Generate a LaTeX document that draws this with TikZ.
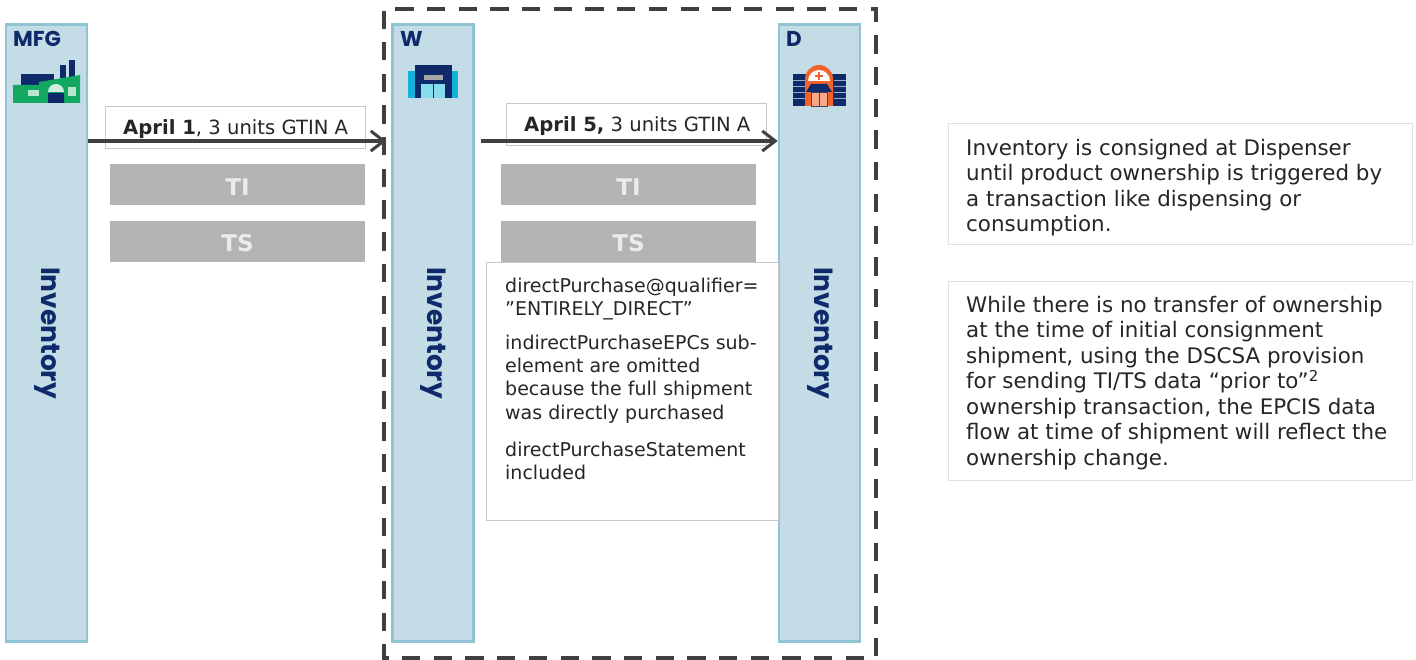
\documentclass[tikz,border=0pt]{standalone}
\usepackage{fontspec}
\setmainfont{DejaVu Sans}
\newfontfamily\headfont{Poppins}
\usetikzlibrary{arrows.meta}
\definecolor{pillarfill}{HTML}{C3DCE6}
\definecolor{pillaredge}{HTML}{90C4D5}
\definecolor{navy}{HTML}{0F2A6B}
\definecolor{barfill}{HTML}{B3B3B3}
\definecolor{boxedge}{HTML}{C8C8C8}
\definecolor{lineink}{HTML}{404040}
\definecolor{factgreen}{HTML}{12A860}
\definecolor{wcyan}{HTML}{12B4DC}
\definecolor{dorange}{HTML}{F2622B}
\tikzset{
  pillar/.style={draw=pillaredge,fill=pillarfill,line width=2.5pt,minimum width=81pt,minimum height=617pt,inner sep=0pt},
  pillartitle/.style={anchor=base west,inner sep=0pt,text=navy,font=\headfont\bfseries\fontsize{21.5}{21.5}\selectfont},
  pillartext/.style={rotate=270,inner sep=0pt,text=navy,font=\headfont\bfseries\fontsize{26.4}{26.4}\selectfont},
  labelbox/.style={draw=boxedge,fill=white,line width=1pt,minimum width=260pt,minimum height=42pt,inner sep=0pt},
  labeltext/.style={anchor=base west,inner sep=0pt,font=\fontsize{19.6}{20}\selectfont,text=black!85},
  bartext/.style={inner sep=0pt,text=white!92!black,font=\bfseries\fontsize{23}{23}\selectfont},
  bar/.style={fill=barfill,minimum width=255pt,minimum height=41pt,inner sep=0pt},
  notebox/.style={draw=black!12,fill=white,line width=1pt,inner sep=0pt},
  notetext/.style={anchor=north west,inner sep=0pt,align=left,text=black!85},
  flow/.style={draw=lineink,line width=3.5pt,-{Straight Barb[length=13pt,width=20pt,line width=3pt]}},
  frameline/.style={draw=lineink,line width=4pt,dash pattern=on 18.3pt off 13.4pt}
}
\begin{document}
\begin{tikzpicture}[x=1pt,y=-1pt]
\useasboundingbox (0,0) rectangle (1416,660);
% frame
\draw[frameline] (383.5,29) -- (383.5,9) -- (876,9) -- (876,657.5) -- (383.5,657.5) -- cycle;
% pillars
\node[pillar] (mfg) at (46.5,333) {};
\node[pillar] (w) at (433,333) {};
\node[pillar] (d) at (819.5,333) {};
\node[pillartitle] (mfgt) at (13,47) {MFG};
\node[pillartitle] (wt) at (400,47) {W};
\node[pillartitle] (dt) at (786,47) {D};
\node[pillartext] (inv1) at (47,333) {Inventory};
\node[pillartext] (inv2) at (433,333) {Inventory};
\node[pillartext] (inv3) at (820,333) {Inventory};
% factory icon
\fill[navy] (21,74) rectangle (54,86);
\fill[navy] (60,65) rectangle (66,78);
\fill[navy] (69,60) rectangle (75,78);
\fill[factgreen] (13,85) -- (39,85) -- (39,82) -- (80,75) -- (80,103) -- (13,103) -- cycle;
\fill[white!80!factgreen] (48,92) arc[start angle=180,end angle=360,radius=8] -- cycle;
\fill[navy] (48,93) rectangle (64,103);
\fill[navy] (48,103) -- (64,93) -- (64,103) -- cycle;
\fill[white!70!factgreen] (28,90) rectangle (39,96);
\fill[white!70!factgreen] (68,87) rectangle (76,96);
% warehouse icon
\fill[wcyan] (408,71) rectangle (458,98);
\fill[navy] (415,65) rectangle (452,98);
\fill[black!35!white] (424,75) rectangle (443,80);
\fill[white!50!wcyan] (421,84) rectangle (445,98);
\draw[navy,line width=0.8pt] (433,84) -- (433,98);
% dispenser icon
\fill[navy] (793,74) rectangle (846,106);
\draw[white!60!navy,line width=0.6pt] (793,80) -- (805,80) (793,86) -- (805,86) (793,92) -- (805,92) (793,98) -- (805,98)
      (834,80) -- (846,80) (834,86) -- (846,86) (834,92) -- (846,92) (834,98) -- (846,98);
\fill[dorange] (805,106) -- (805,79) arc[start angle=180,end angle=360,radius=14] -- (833,106) -- cycle;
\fill[white] (808,81) arc[start angle=180,end angle=360,radius=11] -- cycle;
\draw[dorange,line width=1.5pt] (815,76) -- (823,76) (819,72) -- (819,80);
\fill[navy] (806,92) -- (811,84) -- (827,84) -- (832,92) -- cycle;
\fill[white!45!dorange] (811,92) rectangle (827,106);
\draw[navy!70!dorange,line width=0.8pt] (811,92) rectangle (827,106) (819,92) -- (819,106);
% shipment labels
\node[labelbox] (lab1) at (235,128) {};
\node[labeltext] (lab1t) at (123,135) {\textbf{April 1}, 3 units GTIN A};
\node[labelbox] (lab2) at (636,124.5) {};
\node[labeltext] (lab2t) at (524,132) {\textbf{April 5,} 3 units GTIN A};
% bars
\node[bar] (ti1) at (237.5,184.5) {};
\node[bartext] at (237.5,187) {TI};
\node[bar] (ts1) at (237.5,241.5) {};
\node[bartext] at (237.5,243.5) {TS};
\node[bar] (ti2) at (628.5,184.5) {};
\node[bartext] at (628.5,187) {TI};
\node[bar] (ts2) at (628.5,241.5) {};
\node[bartext] at (628.5,243.5) {TS};
% connectors
\coordinate (rail) at (0,141);
\draw[flow,shorten >=5pt] (mfg.east |- rail) -- (w.west |- rail);
\draw[flow,shorten <=6pt] (w.east |- rail) -- (d.west |- rail);
% middle note
\node[notebox,draw=boxedge,minimum width=292pt,minimum height=257pt] (mid) at (632,391.5) {};
\node[notetext,font=\fontsize{19}{23.3}\selectfont] (midt) at (505,278) {directPurchase@qualifier=\\
”ENTIRELY\_DIRECT”\\[10pt]
indirectPurchaseEPCs sub-\\
element are omitted\\
because the full shipment\\
was directly purchased\\[14pt]
directPurchaseStatement\\
included};
% right notes
\node[notebox,minimum width=464pt,minimum height=121pt] (n1) at (1180,184.5) {};
\node[notetext,font=\fontsize{21.4}{25.4}\selectfont] (n1t) at (966,139) {Inventory is consigned at Dispenser\\
until product ownership is triggered by\\
a transaction like dispensing or\\
consumption.};
\node[notebox,minimum width=464pt,minimum height=198pt] (n2) at (1180,381) {};
\node[notetext,font=\fontsize{21.4}{25.5}\selectfont] (n2t) at (966,296) {While there is no transfer of ownership\\
at the time of initial consignment\\
shipment, using the DSCSA provision\\
for sending TI/TS data “prior to”\textsuperscript{2}\\
ownership transaction, the EPCIS data\\
flow at time of shipment will reflect the\\
ownership change.};
\end{tikzpicture}
\end{document}
